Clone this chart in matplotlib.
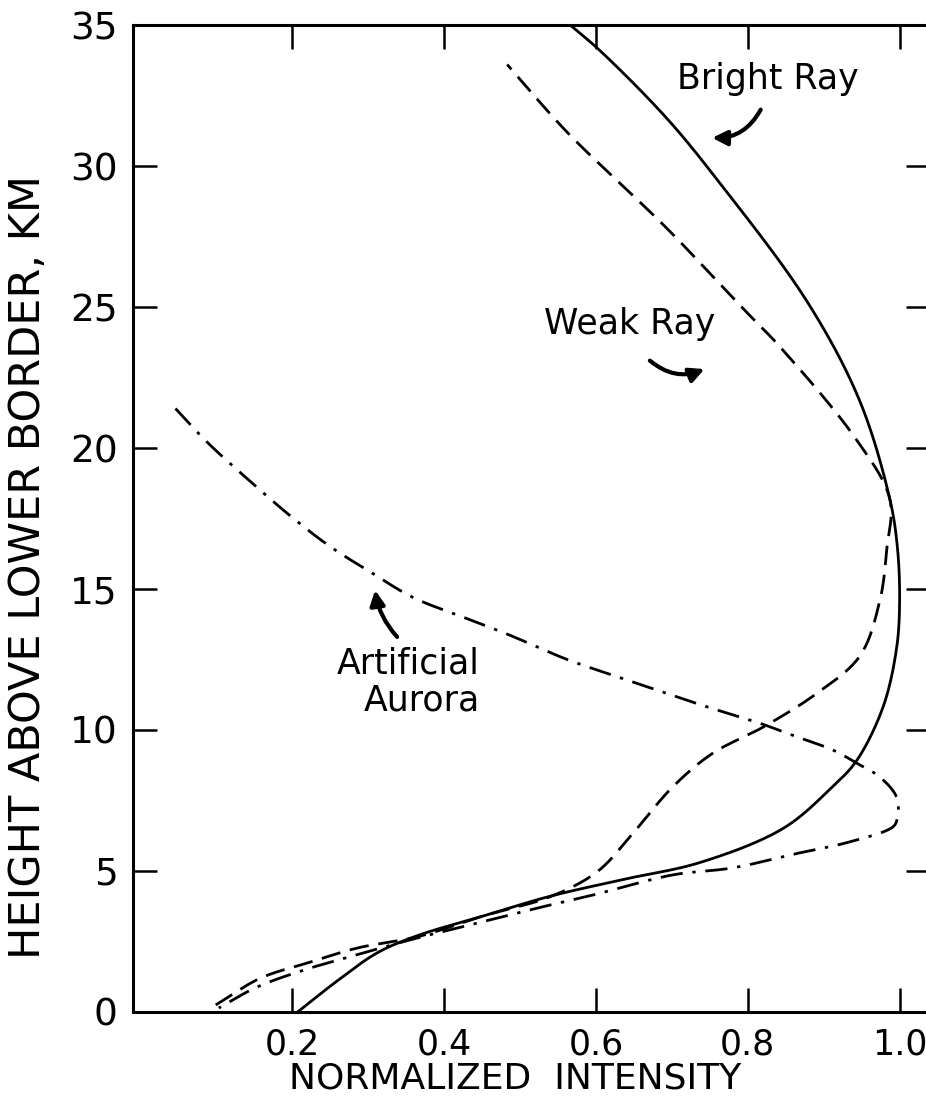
import matplotlib
matplotlib.use('Agg')
import matplotlib.pyplot as plt
import numpy as np

plt.rcParams['font.family'] = ['DejaVu Sans']

# ---- Height profiles (km above lower border) vs normalized intensity
bright_height = [0.0, 1.1, 2.1, 2.7, 3.4, 4.1, 4.7, 5.3, 6.5, 8.0, 8.9, 10.8,
                 12.9, 14.6, 16.5, 18.2, 21.7, 25.2, 29.4, 31.7, 34.1, 35.0]
bright_intensity = [0.207, 0.259, 0.312, 0.364, 0.451, 0.539, 0.636, 0.737,
                    0.846, 0.912, 0.943, 0.978, 0.996, 1.000, 0.997, 0.987,
                    0.947, 0.878, 0.763, 0.693, 0.605, 0.566]

weak_height = [0.25, 1.2, 1.74, 2.27, 2.66, 3.4, 4.08, 4.96, 6.35, 7.98, 9.18,
               10.1, 11.3, 12.6, 14.6, 16.4, 18.2, 20.3, 23.6, 24.8, 27.8,
               31.2, 33.6]
weak_intensity = [0.099, 0.158, 0.220, 0.286, 0.364, 0.451, 0.539, 0.601,
                  0.649, 0.701, 0.754, 0.820, 0.891, 0.947, 0.974, 0.983,
                  0.987, 0.943, 0.842, 0.799, 0.693, 0.562, 0.483]

artificial_height = [21.4, 20.2, 18.9, 17.6, 16.5, 15.6, 14.7, 14.0, 13.4,
                     12.5, 11.9, 11.3, 10.9, 10.2, 9.89, 9.29, 8.83, 8.33,
                     7.62, 6.88, 6.56, 6.03, 5.64, 5.11, 4.86, 4.18, 3.79,
                     3.2, 2.62, 2.09, 1.56, 0.89, 0.14]
artificial_intensity = [0.046, 0.088, 0.141, 0.197, 0.250, 0.303, 0.359,
                        0.425, 0.483, 0.562, 0.627, 0.693, 0.737, 0.820,
                        0.851, 0.912, 0.943, 0.974, 0.996, 0.997, 0.991,
                        0.934, 0.868, 0.780, 0.701, 0.601, 0.539, 0.451,
                        0.364, 0.293, 0.224, 0.154, 0.103]

x_ticks = [0.2, 0.4, 0.6, 0.8, 1.0]
x_tick_labels = ['0.2', '0.4', '0.6', '0.8', '1.0']
y_ticks = [0, 5, 10, 15, 20, 25, 30, 35]


def spline(x, y, per_seg=20, xscale=21.5):
    '''
    Centripetal Catmull-Rom curve through the digitized points.
    :param x, y: point coordinates in data units.
    :param xscale: factor that makes x and y units roughly equal on screen.
    :return: xs, ys - the densified curve.
    '''
    p = np.column_stack([np.asarray(x, float) * xscale, np.asarray(y, float)])
    p = np.vstack([2 * p[0] - p[1], p, 2 * p[-1] - p[-2]])
    out = []
    for i in range(1, len(p) - 2):
        p0, p1, p2, p3 = p[i - 1], p[i], p[i + 1], p[i + 2]
        t0 = 0.0
        t1 = t0 + np.linalg.norm(p1 - p0) ** 0.5
        t2 = t1 + np.linalg.norm(p2 - p1) ** 0.5
        t3 = t2 + np.linalg.norm(p3 - p2) ** 0.5
        t = np.linspace(t1, t2, per_seg, endpoint=False)[:, None]
        a1 = (t1 - t) / (t1 - t0) * p0 + (t - t0) / (t1 - t0) * p1
        a2 = (t2 - t) / (t2 - t1) * p1 + (t - t1) / (t2 - t1) * p2
        a3 = (t3 - t) / (t3 - t2) * p2 + (t - t2) / (t3 - t2) * p3
        b1 = (t2 - t) / (t2 - t0) * a1 + (t - t0) / (t2 - t0) * a2
        b2 = (t3 - t) / (t3 - t1) * a2 + (t - t1) / (t3 - t1) * a3
        out.append((t2 - t) / (t2 - t1) * b1 + (t - t1) / (t2 - t1) * b2)
    out.append(p[-2][None, :])
    c = np.vstack(out)
    return c[:, 0] / xscale, c[:, 1]


fig = plt.figure(figsize=(9.26, 10.99), dpi=100, facecolor='w')
ax = fig.add_axes([0.1436, 0.0792, 0.8607, 0.898])

lw = 2.0
xs, ys = spline(bright_intensity, bright_height)
ax.plot(xs, ys, color='black', lw=lw, solid_capstyle='butt')
xs, ys = spline(weak_intensity, weak_height)
ax.plot(xs, ys, color='black', lw=lw, linestyle=(0, (7, 3.5)))
xs, ys = spline(artificial_intensity, artificial_height)
ax.plot(xs, ys, color='black', lw=lw, linestyle=(0, (8, 3.5, 1.2, 3.5)))

# ---- Axes styling
ax.set_xlim(-0.01, 1.04)
ax.set_ylim(0, 35)
for side in ['left', 'right', 'top', 'bottom']:
    ax.spines[side].set_linewidth(2.2)
ax.set_xticks(x_ticks)
ax.set_xticklabels(x_tick_labels)
ax.set_yticks(y_ticks)
ax.tick_params(axis='both', direction='in', length=17, width=1.8,
               top=True, right=True, pad=11)
ax.tick_params(axis='x', labelsize=25)
ax.tick_params(axis='y', labelsize=27)

ax.set_xlabel('NORMALIZED  INTENSITY', fontsize=26)
ax.xaxis.set_label_coords(0.48, -0.05)
ax.set_ylabel('HEIGHT ABOVE LOWER BORDER, KM', fontsize=31)
ax.yaxis.set_label_coords(-0.105, 0.451)

# ---- Curve labels with hand-drawn style arrows
arrow = dict(arrowstyle='-|>', color='black', lw=3.0, mutation_scale=22,
             shrinkA=0, shrinkB=0)
ax.text(0.826, 33.1, 'Bright Ray', fontsize=25, ha='center', va='center')
ax.annotate('', xy=(0.753, 31.0), xytext=(0.817, 32.0),
            arrowprops=dict(arrow, connectionstyle='arc3,rad=-0.3'))

ax.text(0.645, 24.4, 'Weak Ray', fontsize=25, ha='center', va='center')
ax.annotate('', xy=(0.743, 22.8), xytext=(0.671, 23.1),
            arrowprops=dict(arrow, connectionstyle='arc3,rad=0.3'))

ax.text(0.447, 11.7, 'Artificial\nAurora', fontsize=25, ha='right',
        va='center', multialignment='right', linespacing=1.1)
ax.annotate('', xy=(0.309, 14.96), xytext=(0.338, 13.3),
            arrowprops=dict(arrow, connectionstyle='arc3,rad=-0.15'))

plt.savefig('out.png', dpi=100)
plt.close()
